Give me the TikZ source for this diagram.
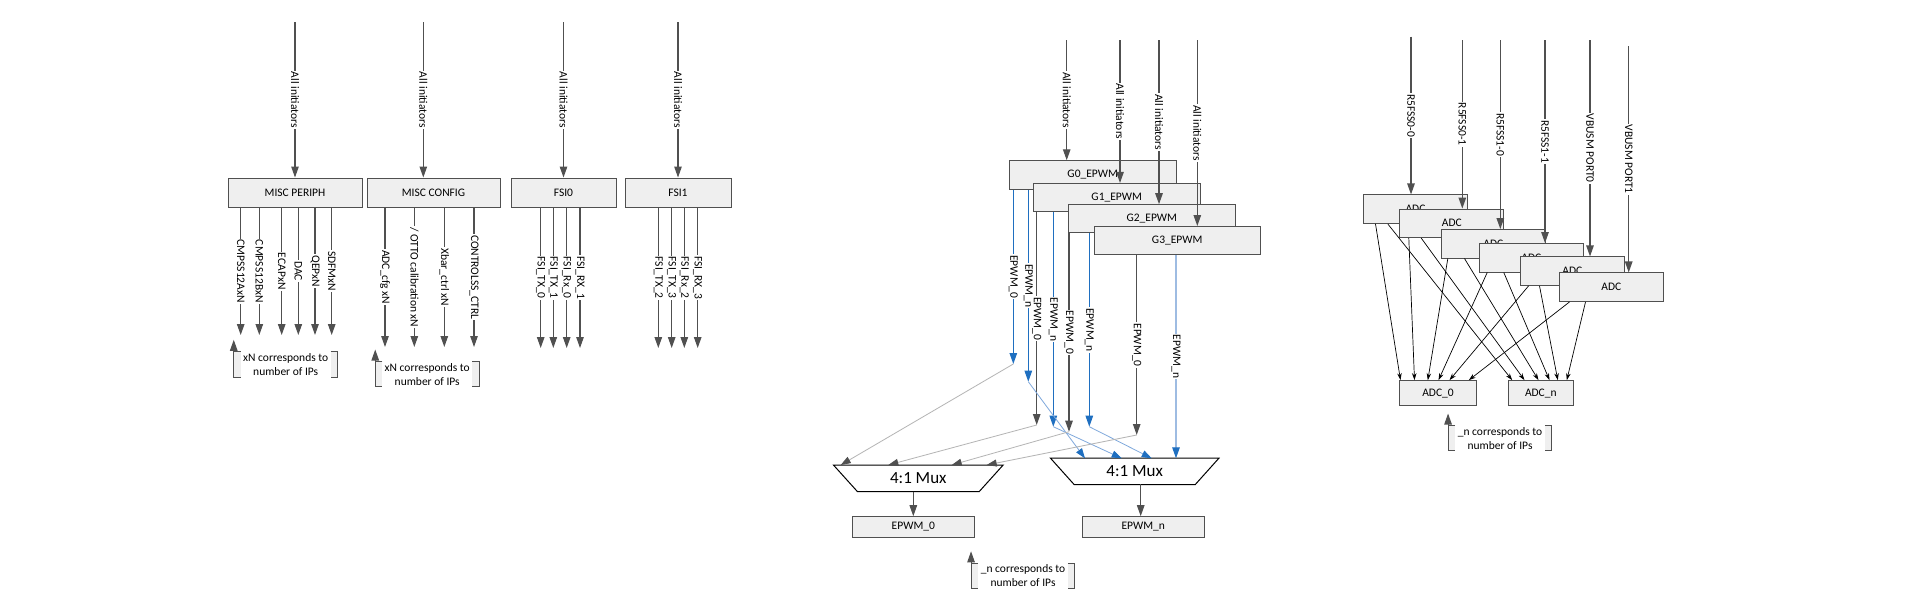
\documentclass[tikz,border=0pt]{standalone}
\usepackage{fontspec}
\setmainfont{Carlito}
\usetikzlibrary{arrows.meta,shapes.geometric,calc}
\definecolor{cLine}{HTML}{505050}
\definecolor{cBox}{HTML}{EFEFEF}
\definecolor{cBlue}{HTML}{1F6FC0}
\definecolor{cLBlue}{HTML}{7FA8DC}
\definecolor{cLGray}{HTML}{B4B4B4}
\definecolor{cPale}{HTML}{9EBCE2}
\newcommand{\annbrk}[1]{%
 \fill[cBox] (#1.north west) rectangle ($(#1.south west)+(7,0)$);
 \fill[cBox] (#1.north east) rectangle ($(#1.south east)+(-7,0)$);
 \draw[cLine,line width=1pt] ($(#1.north west)+(7,0)$) -- (#1.north west) -- (#1.south west) -- ($(#1.south west)+(7,0)$);
 \draw[cLine,line width=1pt] ($(#1.north east)+(-7,0)$) -- (#1.north east) -- (#1.south east) -- ($(#1.south east)+(-7,0)$);
 \draw[arr] (#1.north west) -- ($(#1.north west)+(0,-12)$);
}
\begin{document}
\begin{tikzpicture}[x=1pt,y=-1pt,
  every node/.style={font=\fontsize{11.5}{14}\selectfont, text=black},
  box/.style={draw=cLine, fill=cBox, line width=1pt, inner sep=0pt},
  elbl/.style={rotate=-90, fill=white, inner sep=1pt},
  arr/.style={draw=cLine, line width=1.1pt, -{Triangle[width=7.5pt,length=11pt]}},
  arrB/.style={draw=cBlue, line width=1.1pt, -{Triangle[width=7.5pt,length=11pt]}},
  arrP/.style={draw=cPale, line width=1.3pt, -{Triangle[width=7.5pt,length=11pt,color=cBlue,fill=cBlue]}},
  conG/.style={draw=cLGray, line width=0.8pt, -{Triangle[width=7pt,length=10pt,color=cLine,fill=cLine]}},
  conB/.style={draw=cLBlue, line width=0.8pt, -{Triangle[width=7pt,length=10pt,color=cBlue,fill=cBlue]}},
  thin/.style={draw=black, line width=0.7pt, -{Stealth[width=4.5pt,length=7pt]}},
  mux/.style={trapezium, shape border rotate=180, trapezium stretches=true, trapezium angle=45, draw=black, fill=white, line width=1pt, inner sep=0pt, minimum height=26.5pt, font=\fontsize{17}{20}\selectfont},
  annot/.style={minimum width=103.5pt, minimum height=25pt, inner sep=0pt, align=center},
]
\fill[white] (0,0) rectangle (1920,608);
\useasboundingbox (0,0) rectangle (1920,608);

% ---------------- left group ----------------
\node[box, minimum width=134pt, minimum height=29pt] (mp) at (295,192.5) {MISC PERIPH};
\node[box, minimum width=133pt, minimum height=29pt] (mc) at (433.5,192.5) {MISC CONFIG};
\node[box, minimum width=105pt, minimum height=29pt] (f0) at (563.5,192.5) {FSI0};
\node[box, minimum width=106pt, minimum height=29pt] (f1) at (678,192.5) {FSI1};

\coordinate (tmp) at (295,22);
\coordinate (tmc) at (423.3,22);
\coordinate (tf0) at (563.5,22);
\coordinate (tf1) at (678,22);
\draw[arr] (tmp) -- node[elbl]{All initiators} (tmp |- mp.north);
\draw[arr] (tmc) -- node[elbl]{All initiators} (tmc |- mc.north);
\draw[arr] (tf0) -- node[elbl]{All initiators} (tf0 |- f0.north);
\draw[arr] (tf1) -- node[elbl]{All initiators} (tf1 |- f1.north);

\coordinate (mp1) at (240.7,335);
\coordinate (mp2) at (259.3,335);
\coordinate (mp3) at (281.7,335);
\coordinate (mp4) at (298.3,335);
\coordinate (mp5) at (315,335);
\coordinate (mp6) at (331.7,335);
\draw[arr] (mp1 |- mp.south) -- node[elbl]{CMPSS12AxN} (mp1);
\draw[arr] (mp2 |- mp.south) -- node[elbl]{CMPSS12BxN} (mp2);
\draw[arr] (mp3 |- mp.south) -- node[elbl]{ECAPxN} (mp3);
\draw[arr] (mp4 |- mp.south) -- node[elbl]{DAC} (mp4);
\draw[arr] (mp5 |- mp.south) -- node[elbl]{QEPxN} (mp5);
\draw[arr] (mp6 |- mp.south) -- node[elbl]{SDFMxN} (mp6);

\coordinate (mc1) at (385,347);
\coordinate (mc2) at (414.3,347);
\coordinate (mc3) at (444.3,347);
\coordinate (mc4) at (474,347);
\draw[arr] (mc1 |- mc.south) -- node[elbl]{ADC\_cfg xN} (mc1);
\draw[arr] (mc2 |- mc.south) -- node[elbl]{/ OTTO calibration xN} (mc2);
\draw[arr] (mc3 |- mc.south) -- node[elbl]{Xbar\_ctrl xN} (mc3);
\draw[arr] (mc4 |- mc.south) -- node[elbl]{CONTROLSS\_CTRL} (mc4);

\coordinate (fa1) at (540.7,348);
\coordinate (fa2) at (553.3,348);
\coordinate (fa3) at (566.7,348);
\coordinate (fa4) at (580,348);
\draw[arr] (fa1 |- f0.south) -- node[elbl]{FSI\_TX\_0} (fa1);
\draw[arr] (fa2 |- f0.south) -- node[elbl]{FSI\_TX\_1} (fa2);
\draw[arr] (fa3 |- f0.south) -- node[elbl]{FSI\_Rx\_0} (fa3);
\draw[arr] (fa4 |- f0.south) -- node[elbl]{FSI\_RX\_1} (fa4);

\coordinate (fb1) at (658.3,348);
\coordinate (fb2) at (671.7,348);
\coordinate (fb3) at (684.3,348);
\coordinate (fb4) at (697.7,348);
\draw[arr] (fb1 |- f1.south) -- node[elbl]{FSI\_TX\_2} (fb1);
\draw[arr] (fb2 |- f1.south) -- node[elbl]{FSI\_TX\_3} (fb2);
\draw[arr] (fb3 |- f1.south) -- node[elbl]{FSI\_Rx\_2} (fb3);
\draw[arr] (fb4 |- f1.south) -- node[elbl]{FSI\_RX\_3} (fb4);

\node[annot] (an1) at (285.7,364.5) {xN corresponds to\\number of IPs};
\annbrk{an1}
\node[annot] (an2) at (427.2,374.2) {xN corresponds to\\number of IPs};
\annbrk{an2}

% ---------------- EPWM group ----------------
\node[box, minimum width=167pt, minimum height=28.5pt] (g0) at (1092.7,175) {G0\_EPWM};
\node[box, minimum width=167pt, minimum height=28.5pt] (g1) at (1116.7,197.7) {G1\_EPWM};
\node[box, minimum width=167pt, minimum height=28pt] (g2) at (1151.8,218.7) {G2\_EPWM};
\node[box, minimum width=166pt, minimum height=28pt] (g3) at (1177.2,240.5) {G3\_EPWM};

\coordinate (s0) at (1066.7,40);
\coordinate (s1) at (1120,40);
\coordinate (s2) at (1159,40);
\coordinate (s3) at (1197.3,40);
\draw[arr] (s0) -- node[elbl]{All initiators} (s0 |- g0.north);
\draw[arr] (s1) -- node[elbl]{All initiators} (s1 |- g1.north);
\draw[arr] (s2) -- node[elbl]{All initiators} (s2 |- g2.north);
\draw[arr] (s3) -- node[elbl]{All initiators} (s3 |- g3.north);

\node[mux, minimum width=170pt] (mux0) at (918.3,478.3) {4:1 Mux};
\node[mux, minimum width=169pt] (mux1) at (1134.7,471.3) {4:1 Mux};
\node[box, minimum width=122pt, minimum height=20.6pt] (e0) at (913.3,527) {EPWM\_0};
\node[box, minimum width=122pt, minimum height=20.6pt] (en) at (1143.3,527) {EPWM\_n};

\coordinate (q00) at (1013.3,364);
\coordinate (q0n) at (1028.3,381.7);
\coordinate (q10) at (1036.7,425);
\coordinate (q1n) at (1053.3,426.7);
\coordinate (q20) at (1069,431.7);
\coordinate (q2n) at (1089.3,426.7);
\coordinate (q30) at (1136.7,435);
\coordinate (q3n) at (1176,458.3);
\draw[arrB] (q00 |- g0.south) -- node[elbl]{EPWM\_0} (q00);
\draw[arrB] (q0n |- g0.south) -- node[elbl]{EPWM\_n} (q0n);
\draw[arr]  (q10 |- g1.south) -- node[elbl]{EPWM\_0} (q10);
\draw[arrB] (q1n |- g1.south) -- node[elbl]{EPWM\_n} (q1n);
\draw[arr]  (q20 |- g2.south) -- node[elbl]{EPWM\_0} (q20);
\draw[arrB] (q2n |- g2.south) -- node[elbl]{EPWM\_n} (q2n);
\draw[arr]  (q30 |- g3.south) -- node[elbl]{EPWM\_0} (q30);
\draw[arrP] (q3n |- g3.south) -- node[elbl]{EPWM\_n} (q3n);

\coordinate (i01) at (840.7,465);
\coordinate (i02) at (888.3,465);
\coordinate (i03) at (951.7,465);
\coordinate (i04) at (986.7,465);
\coordinate (i11) at (1085,458.3);
\coordinate (i12) at (1121.7,458.3);
\coordinate (i13) at (1151.7,458.3);
\draw[conG] (q00) -- (i01);
\draw[conB] (q0n) -- (i11);
\draw[conG] (q10) -- (i02);
\draw[conB] (q1n) -- (i12);
\draw[conG] (q20) -- (i03);
\draw[conB] (q2n) -- (i13);
\draw[conG] (q30) -- (i04);

\coordinate (mo0) at (913.3,491.7);
\coordinate (mo1) at (1140.7,484.3);
\draw[arr] (mo0) -- (mo0 |- e0.north);
\draw[arr] (mo1) -- (mo1 |- en.north);

\node[annot] (an3) at (1023,576) {\_n corresponds to\\number of IPs};
\annbrk{an3}

% ---------------- ADC group ----------------
\node[box, minimum width=104pt, minimum height=28.5pt] (a1) at (1415.5,209.2) {ADC};
\node[box, minimum width=104pt, minimum height=28.5pt] (a2) at (1451.8,223.3) {ADC};
\node[box, minimum width=104pt, minimum height=28.5pt] (a3) at (1493.4,243.8) {ADC};
\node[box, minimum width=104pt, minimum height=28.5pt] (a4) at (1531.3,257.8) {ADC};
\node[box, minimum width=104pt, minimum height=28.5pt] (a5) at (1572.3,271.2) {ADC};
\node[box, minimum width=104pt, minimum height=28.5pt] (a6) at (1611.3,287.2) {ADC};
\node[box, minimum width=77.4pt, minimum height=25.3pt] (ad0) at (1438,393.3) {ADC\_0};
\node[box, minimum width=65pt, minimum height=25.3pt] (adn) at (1540.8,393.3) {ADC\_n};

\coordinate (r1) at (1411,36.7);
\coordinate (r2) at (1462.3,40);
\coordinate (r3) at (1500.3,40);
\coordinate (r4) at (1545,40);
\coordinate (r5) at (1590,40);
\coordinate (r6) at (1628.7,46);
\draw[arr] (r1) -- node[elbl]{R5FSS0-0} (r1 |- a1.north);
\draw[arr] (r2) -- node[elbl]{R5FSS0-1} (r2 |- a2.north);
\draw[arr] (r3) -- node[elbl]{R5FSS1-0} (r3 |- a3.north);
\draw[arr] (r4) -- node[elbl]{R5FSS1-1} (r4 |- a4.north);
\draw[arr] (r5) -- node[elbl]{VBUSM PORT0} (r5 |- a5.north);
\draw[arr] (r6) -- node[elbl]{VBUSM PORT1} (r6 |- a6.north);

\draw[thin] ($(a1.south west)+(12.5,0)$) -- ($(ad0.north west)+(1.7,0)$);
\draw[thin] ($(a1.south west)+(24.8,0)$) -- ($(adn.north west)+(4.4,0)$);
\draw[thin] ($(a2.south west)+(9.5,0)$) -- ($(ad0.north west)+(15.7,0)$);
\draw[thin] ($(a2.south west)+(21.9,0)$) -- ($(adn.north west)+(16.7,0)$);
\draw[thin] ($(a3.south west)+(6.9,0)$) -- ($(ad0.north west)+(29,0)$);
\draw[thin] ($(a3.south west)+(23.6,0)$) -- ($(adn.north west)+(30.7,0)$);
\draw[thin] ($(a4.south west)+(8.4,0)$) -- ($(ad0.north west)+(39.7,0)$);
\draw[thin] ($(a4.south west)+(25,0)$) -- ($(adn.north west)+(41.7,0)$);
\draw[thin] ($(a5.south west)+(8.7,0)$) -- ($(ad0.north west)+(50.7,0)$);
\draw[thin] ($(a5.south west)+(19.7,0)$) -- ($(adn.north west)+(50,0)$);
\draw[thin] ($(a6.south west)+(10.7,0)$) -- ($(ad0.north west)+(70,0)$);
\draw[thin] ($(a6.south west)+(26.7,0)$) -- ($(adn.north west)+(59,0)$);

\node[annot] (an4) at (1500,438.2) {\_n corresponds to\\number of IPs};
\annbrk{an4}
\end{tikzpicture}
\end{document}
